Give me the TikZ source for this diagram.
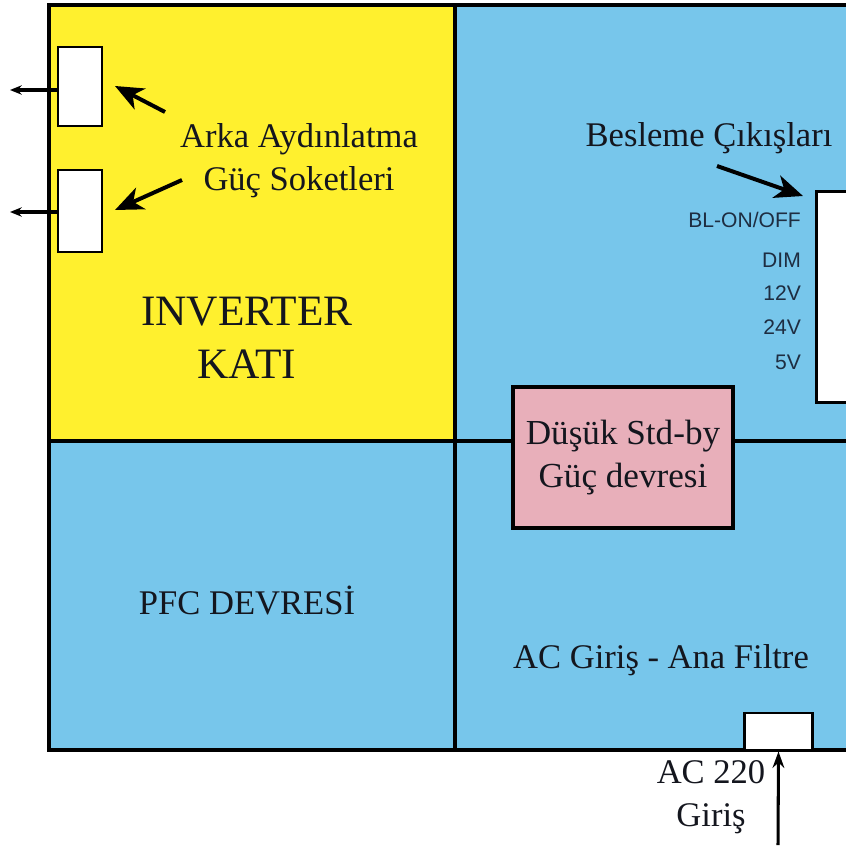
\documentclass[tikz,border=0pt]{standalone}
\usepackage{fontspec}
\setmainfont{Liberation Serif}
\setsansfont{Liberation Sans}
\usepackage{tikz}
\usetikzlibrary{arrows.meta, positioning}

\definecolor{katsari}{RGB}{255,240,46}
\definecolor{katmavi}{RGB}{119,198,235}
\definecolor{katpembe}{RGB}{232,175,186}
\definecolor{yazi}{RGB}{20,22,30}
\definecolor{pinyazi}{RGB}{30,45,65}

\tikzset{
  cerceve/.style={line width=2.6pt, black},
  soket/.style={draw, line width=2.5pt, fill=white, inner sep=0pt},
  etiket/.style={text=yazi, font=\fontsize{29.5}{36.6}\selectfont, align=center},
  pin/.style={text=pinyazi, font=\sffamily\fontsize{18}{20}\selectfont, anchor=east},
  okbuyuk/.style={line width=3.4pt, -{Stealth[length=24pt,width=20pt,inset=7pt]}},
  okkucuk/.style={line width=2.6pt, -{Stealth[length=10pt,width=8pt]}}
}

\begin{document}
\begin{tikzpicture}[x=0.03cm, y=-0.03cm]
\useasboundingbox (0,0) rectangle (846,845);

% bolgeler
\fill[katsari] (49,5) rectangle (455,441);
\fill[katmavi] (455,5) rectangle (846,441);
\fill[katmavi] (49,441) rectangle (455,750);
\fill[katmavi] (455,441) rectangle (846,750);

\draw[cerceve] (846,5)--(49,5)--(49,750)--(846,750);
\draw[cerceve] (455,5)--(455,750);
\draw[cerceve] (49,441)--(846,441);

% inverter kati
\node[soket, minimum width=44*0.03cm, minimum height=79*0.03cm] (sok1) at (80,86.5) {};
\node[soket, minimum width=44*0.03cm, minimum height=82*0.03cm] (sok2) at (80,211) {};
\coordinate (cik1) at (10,90);
\coordinate (cik2) at (10,212);
\draw[okkucuk] (sok1.west |- cik1)--(cik1);
\draw[okkucuk] (sok2.west |- cik2)--(cik2);

\node[etiket] (soketyazi) at (299,161) {Arka Aydınlatma\\Güç Soketleri};
\coordinate (oc1) at (165,112);
\coordinate (oc2) at (182,180);
\draw[okbuyuk] (oc1)--(115,86);
\draw[okbuyuk] (oc2)--(115,210);

\node[etiket, font=\fontsize{37}{45}\selectfont] (inverter) at (247,338) {INVERTER\\KATI};

% besleme cikislari
\node[soket, anchor=north west, minimum width=40*0.03cm, minimum height=211*0.03cm] (besleme) at (815,190) {};
\node[etiket] (beslemeyazi) at (709,138) {Besleme Çıkışları};
\coordinate (bc) at (717,166);
\draw[okbuyuk] (bc)--(803,196);

\node[pin] (blon) at (805,220) {BL-ON/OFF};
\node[pin] (dim) at (805,260) {DIM};
\node[pin] (v12) at (805,293) {12V};
\node[pin] (v24) at (805,327) {24V};
\node[pin] (v5) at (805,362) {5V};

% std-by
\node[draw, line width=2.6pt, fill=katpembe, minimum width=220*0.03cm, minimum height=141*0.03cm,
      etiket, font=\fontsize{30}{37.4}\selectfont] (stdby) at (623,457.5) {Düşük Std-by\\Güç devresi};

\node[etiket] (pfc) at (247,600) {PFC DEVRESİ};
\node[etiket] (acfiltre) at (661,660) {AC Giriş - Ana Filtre};

% ac giris
\node[soket, minimum width=68*0.03cm, minimum height=37*0.03cm] (acsoket) at (778.5,731.5) {};
\coordinate (acalt) at (778,845);
\draw[line width=2.6pt, -{Stealth[length=14pt,width=10pt]}] (acalt)--(acsoket.south);
\node[etiket] (acyazi) at (711,797) {AC 220\\Giriş};

\end{tikzpicture}
\end{document}
